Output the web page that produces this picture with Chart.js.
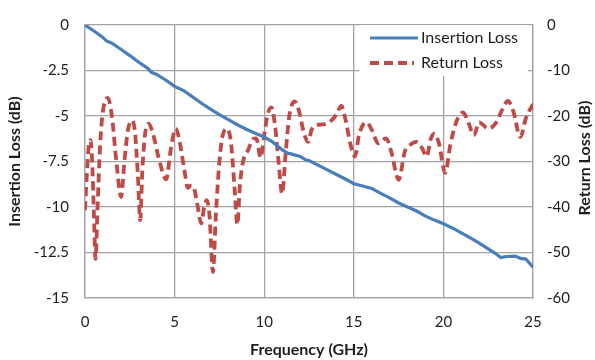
<!DOCTYPE html>
<html><head><meta charset="utf-8">
<script src="https://cdn.jsdelivr.net/npm/chart.js@4/dist/chart.umd.min.js"></script>
<style>html,body{margin:0;padding:0;background:#fff}#wrap{width:595px;height:360px;position:relative}</style>
</head><body><div id="wrap"><canvas id="c" width="595" height="360"></canvas></div>
<script>
// ---- data ----
const xTickValues = [0, 5, 10, 15, 20, 25];
const leftTickValues = [0, -2.5, -5, -7.5, -10, -12.5, -15];
const rightTickValues = [0, -10, -20, -30, -40, -50, -60];

const ilFreq = [0,0.5,1,1.2,1.5,2,2.5,3,3.5,3.7,4,4.5,5,5.5,6,6.5,7,7.5,8,8.5,9,9.5,10,10.5,11,11.3,11.5,12,12.3,12.5,13,13.5,14,14.5,15,15.5,16,16.5,17,17.5,18,18.5,19,19.5,20,20.5,21,21.5,22,22.5,23,23.2,23.5,24,24.3,24.6,25];
const ilValues = [0,-0.33,-0.68,-0.88,-1.0,-1.33,-1.68,-2.05,-2.38,-2.6,-2.72,-3.02,-3.37,-3.6,-3.95,-4.3,-4.62,-4.93,-5.2,-5.48,-5.73,-5.95,-6.15,-6.45,-6.85,-7.04,-7.08,-7.22,-7.4,-7.45,-7.7,-7.95,-8.2,-8.45,-8.72,-8.85,-8.98,-9.25,-9.5,-9.78,-10.0,-10.22,-10.5,-10.72,-10.92,-11.15,-11.42,-11.7,-11.98,-12.3,-12.62,-12.78,-12.72,-12.7,-12.82,-12.86,-13.3];

const rlFreq = [0,0.1,0.2,0.3,0.4,0.5,0.59,0.7,0.85,1.0,1.27,1.5,1.75,2.02,2.2,2.4,2.64,2.8,2.95,3.08,3.2,3.35,3.55,3.8,4.1,4.53,4.8,5.06,5.3,5.55,5.74,5.9,6.05,6.25,6.49,6.65,6.8,6.95,7.14,7.3,7.5,7.7,7.94,8.15,8.35,8.5,8.65,8.82,9.1,9.4,9.56,9.8,10.0,10.2,10.4,10.6,10.8,11.0,11.2,11.4,11.7,11.95,12.2,12.45,12.65,12.9,13.4,13.8,14.05,14.3,14.55,14.8,15.06,15.3,15.7,16.0,16.36,16.8,17.1,17.5,17.85,18.1,18.5,18.8,19.06,19.3,19.5,19.75,20.1,20.4,20.75,21.1,21.4,21.7,22.0,22.5,22.9,23.3,23.6,23.9,24.3,24.6,25.0];
const rlValues = [-40.7,-33,-27,-25.3,-30,-42,-51.4,-40,-26,-19,-16.0,-20,-30,-37.8,-30,-23,-21.0,-24,-33,-42.9,-32,-24,-21.7,-24,-29,-33.9,-27,-22.8,-26,-32,-35.8,-35.3,-35.5,-39,-43.6,-40,-38.5,-42,-54.3,-42,-30,-24,-22.8,-26,-36,-43.9,-35,-30,-27.5,-25,-24.9,-29.2,-24.2,-19.5,-18.1,-22,-30,-37.1,-28,-20,-16.8,-19,-23.5,-25.7,-23,-22,-21.8,-20.8,-19.5,-17.8,-21,-26,-28.9,-24,-21.4,-23,-26,-24.9,-28,-34.0,-27.8,-26.5,-25.7,-27,-28.9,-25,-23.9,-26,-32.5,-26,-21,-19.2,-21.5,-24.2,-21.4,-22.8,-21.7,-18.5,-16.7,-19,-24.6,-20.5,-17.4];

const seriesNames = ['Insertion Loss', 'Return Loss'];
const seriesColors = ['#4a7ebb', '#be4b48'];

// ---- chart ----
const FONT = 'Lato, "Open Sans", sans-serif';
const GRID = '#a3a3a3';
const TXT = '#1e1e1e';

const legendPlugin = {
  id: 'insideLegend',
  beforeDatasetsDraw(chart) {
    const ctx = chart.ctx;
    ctx.save();
    ctx.fillStyle = '#fff';
    ctx.fillRect(359, 25, 169, 51);
    ctx.lineCap = 'butt';
    ctx.strokeStyle = seriesColors[0]; ctx.lineWidth = 3.2; ctx.setLineDash([]);
    ctx.beginPath(); ctx.moveTo(370, 38); ctx.lineTo(418, 38); ctx.stroke();
    ctx.strokeStyle = seriesColors[1]; ctx.lineWidth = 3.8; ctx.setLineDash([9, 5]);
    ctx.beginPath(); ctx.moveTo(370, 63); ctx.lineTo(414, 63); ctx.stroke();
    ctx.setLineDash([]);
    ctx.fillStyle = TXT; ctx.font = '16px ' + FONT;
    ctx.textAlign = 'left'; ctx.textBaseline = 'middle';
    ctx.fillText(seriesNames[0], 421, 38);
    ctx.fillText(seriesNames[1], 421, 63);
    ctx.restore();
  },
  afterDraw(chart) {
    const ctx = chart.ctx;
    ctx.save();
    ctx.translate(585, 158);
    ctx.rotate(-Math.PI / 2);
    ctx.fillStyle = TXT; ctx.font = 'bold 16px ' + FONT;
    ctx.textAlign = 'center'; ctx.textBaseline = 'middle';
    ctx.fillText('Return Loss (dB)', 0, 0);
    ctx.restore();
  }
};

new Chart(document.getElementById('c'), {
  type: 'line',
  data: {
    datasets: [
      {
        label: seriesNames[0],
        data: ilFreq.map((f, i) => ({x: f, y: ilValues[i]})),
        yAxisID: 'y',
        borderColor: seriesColors[0], borderWidth: 3.2,
        pointRadius: 0, tension: 0, fill: false
      },
      {
        label: seriesNames[1],
        data: rlFreq.map((f, i) => ({x: f, y: rlValues[i]})),
        yAxisID: 'y2',
        borderColor: seriesColors[1], borderWidth: 3.8, borderDash: [9, 5],
        pointRadius: 0, cubicInterpolationMode: 'monotone', fill: false
      }
    ]
  },
  options: {
    responsive: false, animation: false, devicePixelRatio: 1,
    layout: {padding: {top: 19, left: 0, right: 0, bottom: 0}},
    plugins: {legend: {display: false}, tooltip: {enabled: false}},
    scales: {
      x: {
        type: 'linear', min: 0, max: 25,
        afterBuildTicks: s => { s.ticks = xTickValues.map(v => ({value: v})); },
        afterFit: s => { s.height = 62; },
        ticks: {font: {family: FONT, size: 15}, color: TXT, padding: 15, maxRotation: 0},
        grid: {color: GRID, lineWidth: 1.3, drawTicks: false},
        border: {color: GRID, width: 1.3},
        title: {display: true, text: 'Frequency (GHz)', font: {family: FONT, size: 16, weight: 'bold'}, color: TXT, padding: {top: 0, bottom: 1}}
      },
      y: {
        position: 'left', min: -15, max: 0,
        afterBuildTicks: s => { s.ticks = leftTickValues.map(v => ({value: v})); },
        afterFit: s => { s.width = 85; },
        ticks: {font: {family: FONT, size: 15}, color: TXT, padding: 16},
        grid: {color: GRID, lineWidth: 1.3, drawTicks: false},
        border: {color: GRID, width: 1.3},
        title: {display: true, text: 'Insertion Loss (dB)', font: {family: FONT, size: 16, weight: 'bold'}, color: TXT, padding: {top: 5, bottom: 0}}
      },
      y2: {
        position: 'right', min: -60, max: 0,
        afterBuildTicks: s => { s.ticks = rightTickValues.map(v => ({value: v})); },
        afterFit: s => { s.width = 62; },
        ticks: {font: {family: FONT, size: 15}, color: TXT, padding: 14},
        grid: {display: false, drawTicks: false},
        border: {color: GRID, width: 1.3}
      }
    }
  },
  plugins: [legendPlugin]
});
</script>
</body></html>
